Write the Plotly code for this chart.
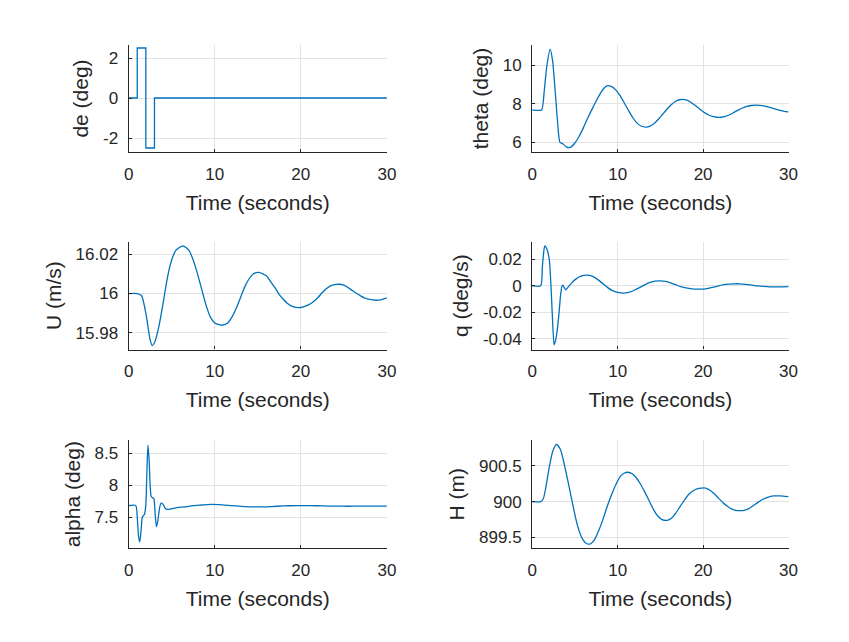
import plotly.graph_objects as go

# ---------------- data ----------------
de_t = [0, 1, 1, 2, 2, 3, 3, 30]
de_v = [0, 0, 2.5, 2.5, -2.5, -2.5, 0, 0]

theta_t = [0, 1.1, 1.4, 1.7, 2.1, 2.4, 2.7, 3.0, 3.25, 3.6, 4.0, 4.4, 5.0, 5.5, 6.0, 6.5, 7.0, 7.5, 8.0, 8.4, 8.8,
           9.3, 9.8, 10.3, 10.8, 11.3, 11.8, 12.3, 12.8, 13.3, 13.8, 14.3, 14.8, 15.3, 15.8, 16.3, 16.8, 17.2,
           17.6, 18.1, 18.6, 19.1, 19.6, 20.1, 20.6, 21.1, 21.6, 22.1, 22.6, 23.1, 23.6, 24.1, 24.6, 25.1, 25.6,
           26.2, 26.7, 27.2, 27.8, 28.4, 29.0, 29.5, 30]
theta_v = [7.67, 7.67, 8.6, 9.9, 10.84, 10.2, 8.6, 6.9, 5.98, 5.9, 5.75, 5.71, 5.95, 6.3, 6.75, 7.25, 7.7, 8.15,
           8.55, 8.8, 8.93, 8.88, 8.7, 8.4, 8.02, 7.62, 7.25, 6.97, 6.82, 6.78, 6.83, 6.98, 7.2, 7.46, 7.72, 7.95,
           8.12, 8.2, 8.22, 8.18, 8.06, 7.9, 7.72, 7.55, 7.42, 7.33, 7.29, 7.29, 7.33, 7.42, 7.54, 7.66, 7.77,
           7.85, 7.9, 7.92, 7.91, 7.87, 7.8, 7.72, 7.65, 7.6, 7.57]

u_t = [0, 1.0, 1.5, 2.0, 2.5, 2.75, 3.0, 3.5, 4.0, 4.5, 5.0, 5.5, 6.3, 7.0, 7.5, 8.0, 8.5, 9.0, 9.5, 10.0, 10.8,
       11.5, 12.0, 12.5, 13.0, 13.5, 14.0, 14.5, 15.15, 16.0, 16.5, 17.0, 17.5, 18.0, 18.5, 19.0, 20.0, 21.0,
       21.5, 22.0, 22.5, 23.0, 23.5, 24.4, 25.0, 25.5, 26.0, 26.5, 27.0, 27.5, 28.0, 28.7, 29.3, 30]
u_v = [16, 16, 15.999, 15.990, 15.9765, 15.9736, 15.975, 15.983, 15.995, 16.008, 16.017, 16.022, 16.0242, 16.022,
       16.017, 16.010, 16.002, 15.994, 15.988, 15.985, 15.9839, 15.985, 15.988, 15.9925, 15.998, 16.0035, 16.0075,
       16.010, 16.0107, 16.009, 16.006, 16.003, 15.9995, 15.997, 15.9948, 15.9935, 15.9929, 15.9945, 15.996,
       15.998, 16.0005, 16.0025, 16.004, 16.0047, 16.0043, 16.003, 16.0015, 16.000, 15.9987, 15.9976, 15.997,
       15.9966, 15.9968, 15.9978]

q_t = [0, 1.0, 1.2, 1.4, 1.5, 1.7, 2.0, 2.2, 2.38, 2.57, 2.75, 2.95, 3.15, 3.34, 3.5, 3.6, 3.8, 3.95, 4.2, 4.6,
       5.1, 5.7, 6.4, 7.0, 7.6, 8.2, 8.8, 9.4, 10.0, 10.7, 11.4, 12.0, 12.6, 13.2, 13.8, 14.4, 15.0, 15.6, 16.2,
       16.8, 17.4, 18.0, 18.7, 19.3, 20.0, 20.6, 21.2, 21.8, 22.4, 23.0, 23.6, 24.3, 25.0, 25.7, 26.4, 27.1,
       27.8, 28.5, 29.2, 30]
q_v = [0, 0, 0.015, 0.028, 0.030, 0.028, 0.020, 0.0, -0.025, -0.0445, -0.041, -0.0325, -0.02, -0.006, 0.0,
       0.0005, -0.002, -0.003, -0.001, 0.002, 0.005, 0.0072, 0.008, 0.0072, 0.005, 0.002, -0.0012, -0.0036,
       -0.005, -0.0055, -0.0048, -0.0032, -0.0012, 0.0008, 0.0025, 0.0035, 0.0037, 0.0033, 0.0022, 0.0008,
       -0.0006, -0.0016, -0.0023, -0.0025, -0.0025, -0.002, -0.0011, -0.0001, 0.0008, 0.0013, 0.0015, 0.0015,
       0.0011, 0.0005, -0.0001, -0.0005, -0.0008, -0.0009, -0.0008, -0.0006]

alpha_t = [0, 0.83, 1.0, 1.15, 1.29, 1.45, 1.6, 1.86, 2.0, 2.12, 2.24, 2.38, 2.5, 2.63, 2.93, 3.08, 3.23, 3.4,
           3.6, 3.77, 4.0, 4.25, 4.5, 5.0, 5.6, 6.5, 7.5, 8.5, 9.5, 10.5, 12.0, 13.5, 15.0, 16.5, 18.0, 19.5,
           21.0, 22.5, 24.0, 25.5, 27.0, 28.5, 30]
alpha_v = [7.68, 7.68, 7.5, 7.2, 7.11, 7.3, 7.5, 7.55, 7.7, 8.2, 8.63, 8.4, 8.0, 7.82, 7.79, 7.55, 7.35, 7.45,
           7.65, 7.72, 7.7, 7.64, 7.62, 7.63, 7.65, 7.66, 7.68, 7.69, 7.70, 7.695, 7.68, 7.665, 7.66, 7.665,
           7.675, 7.68, 7.68, 7.675, 7.672, 7.67, 7.672, 7.673, 7.673]

h_t = [0, 1.0, 1.3, 1.6, 2.0, 2.4, 2.84, 3.3, 3.8, 4.3, 4.8, 5.3, 5.8, 6.3, 6.8, 7.3, 7.8, 8.3, 8.8, 9.3, 9.8,
       10.3, 10.8, 11.2, 11.7, 12.2, 12.7, 13.2, 13.7, 14.2, 14.7, 15.2, 15.8, 16.3, 16.8, 17.3, 17.8, 18.3,
       18.8, 19.3, 19.8, 20.3, 20.8, 21.3, 21.8, 22.3, 22.8, 23.3, 23.8, 24.3, 24.8, 25.3, 25.8, 26.3, 26.8,
       27.3, 27.8, 28.3, 29.0, 29.5, 30]
h_v = [900, 900, 900.04, 900.2, 900.48, 900.7, 900.80, 900.73, 900.5, 900.22, 899.93, 899.67, 899.5, 899.42,
       899.41, 899.47, 899.6, 899.76, 899.94, 900.1, 900.24, 900.35, 900.4, 900.41, 900.39, 900.33, 900.24,
       900.13, 900.01, 899.89, 899.8, 899.75, 899.74, 899.77, 899.84, 899.93, 900.02, 900.1, 900.15, 900.18,
       900.19, 900.19, 900.16, 900.11, 900.05, 899.99, 899.94, 899.9, 899.88, 899.875, 899.88, 899.9, 899.94,
       899.98, 900.02, 900.05, 900.07, 900.08, 900.08, 900.075, 900.07]

x_ticks = [0, 10, 20, 30]
x_label = "Time (seconds)"

panels = [
    dict(t=de_t, v=de_v, shape="linear", ylabel="de (deg)", yrange=[-2.7, 2.65],
         yticks=[-2, 0, 2], yticktext=["-2", "0", "2"]),
    dict(t=theta_t, v=theta_v, shape="spline", ylabel="theta (deg)", yrange=[5.48, 11.05],
         yticks=[6, 8, 10], yticktext=["6", "8", "10"]),
    dict(t=u_t, v=u_v, shape="spline", ylabel="U (m/s)", yrange=[15.9716, 16.0263],
         yticks=[15.98, 16, 16.02], yticktext=["15.98", "16", "16.02"]),
    dict(t=q_t, v=q_v, shape="spline", ylabel="q (deg/s)", yrange=[-0.048, 0.0332],
         yticks=[-0.04, -0.02, 0, 0.02], yticktext=["-0.04", "-0.02", "0", "0.02"]),
    dict(t=alpha_t, v=alpha_v, shape="spline", ylabel="alpha (deg)", yrange=[7.01, 8.71],
         yticks=[7.5, 8, 8.5], yticktext=["7.5", "8", "8.5"]),
    dict(t=h_t, v=h_v, shape="spline", ylabel="H (m)", yrange=[899.35, 900.86],
         yticks=[899.5, 900, 900.5], yticktext=["899.5", "900", "900.5"]),
]

W, H = 849, 642
col_px = [(125.7, 388.3), (536.0, 796.7)]
row_px = [(45.0, 152.0), (241.7, 349.5), (440.0, 548.3)]

FONT = "Liberation Sans, Arial, Helvetica, sans-serif"
TXT = "#262626"
LINE = "#0072BD"
GRID = "#e3e3e3"

fig = go.Figure()
layout = dict(
    width=W, height=H, margin=dict(l=0, r=0, t=0, b=0),
    paper_bgcolor="white", plot_bgcolor="white", showlegend=False,
    font=dict(family=FONT, size=17, color=TXT),
)

for i, p in enumerate(panels):
    r, c = divmod(i, 2)
    n = "" if i == 0 else str(i + 1)
    x0, x1 = col_px[c]
    y0, y1 = row_px[r]
    line = dict(color=LINE, width=1.3, shape=p["shape"])
    if p["shape"] == "spline":
        line["smoothing"] = 0.6
    fig.add_trace(go.Scatter(
        x=p["t"], y=p["v"], mode="lines", xaxis="x" + n, yaxis="y" + n,
        line=line, hoverinfo="skip"))
    layout["xaxis" + n] = dict(
        domain=[x0 / W, x1 / W], anchor="y" + n, range=[0, 30],
        tickvals=x_ticks, ticks="inside", ticklen=3, tickcolor=TXT,
        showline=True, linecolor=TXT, linewidth=1.2, mirror=False,
        showgrid=True, gridcolor=GRID, gridwidth=1, zeroline=False,
        tickfont=dict(size=17, color=TXT), ticklabelstandoff=6,
        title=dict(text=x_label, font=dict(size=21, color=TXT), standoff=12),
    )
    layout["yaxis" + n] = dict(
        domain=[1 - y1 / H, 1 - y0 / H], anchor="x" + n, range=p["yrange"],
        tickvals=p["yticks"], ticktext=p["yticktext"], ticks="inside", ticklen=3, tickcolor=TXT,
        showline=True, linecolor=TXT, linewidth=1.2, mirror=False,
        showgrid=True, gridcolor=GRID, gridwidth=1, zeroline=False,
        tickfont=dict(size=17, color=TXT), ticklabelstandoff=6,
        title=dict(text=p["ylabel"], font=dict(size=21, color=TXT), standoff=8),
    )

fig.update_layout(**layout)
fig.write_html("out.html")
